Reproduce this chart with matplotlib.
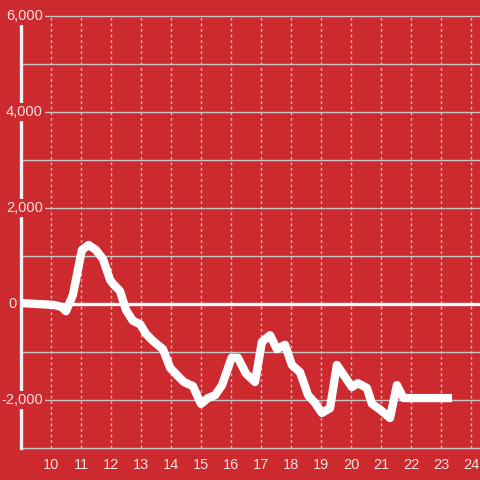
import numpy as np
import matplotlib
matplotlib.use('Agg')
import matplotlib.pyplot as plt

# hours of the day and the running value
hours = [9.0, 10.1, 10.35, 10.5, 10.73, 11.03, 11.25, 11.5, 11.73, 11.97,
         12.07, 12.3, 12.5, 12.73, 12.97, 13.17, 13.4, 13.73, 13.97, 14.2,
         14.43, 14.73, 15.0, 15.23, 15.47, 15.7, 16.02, 16.23, 16.5, 16.8,
         17.03, 17.3, 17.53, 17.8, 18.03, 18.3, 18.57, 18.8, 19.03, 19.3,
         19.53, 20.03, 20.23, 20.53, 20.7, 20.97, 21.3, 21.53, 21.75, 23.37]
values = [20, -20, -60, -150, 190, 1125, 1230, 1125, 940, 500,
          420, 270, -125, -350, -420, -625, -770, -940, -1330, -1480,
          -1625, -1710, -2080, -1960, -1900, -1690, -1120, -1120, -1450, -1625,
          -790, -650, -940, -850, -1270, -1420, -1900, -2060, -2270, -2170,
          -1270, -1730, -1650, -1750, -2080, -2200, -2375, -1690, -1960, -1960]

xticks = list(range(10, 25))
ygrid = list(range(-3000, 6001, 1000))
ylabels = [6000, 4000, 2000, 0, -2000]

bg = '#cc2a2f'
fg = '#f4e2e2'
grid_col = '#c9c4c4'

fig = plt.figure(figsize=(4.8, 4.8), dpi=100, facecolor=bg)
ax = fig.add_axes([21/480, 32/480, 459/480, 432/480])
ax.set_facecolor(bg)
ax.set_xlim(9, 9 + 459/30)
ax.set_ylim(-3000, 6000)

# grid
for y in ygrid:
    ax.axhline(y, color=grid_col, lw=1.0, zorder=1, clip_on=False)
for x in xticks:
    ax.axvline(x, color=grid_col, lw=1.0, ls=(0, (2, 2)), zorder=1)
ax.axhline(0, color='white', lw=2.4, zorder=2)

ax.plot(hours, values, color='white', lw=6, solid_joinstyle='round',
        solid_capstyle='butt', zorder=4)

for s in ['top', 'right', 'bottom']:
    ax.spines[s].set_visible(False)
ax.spines['left'].set_color('#f2f2f2')
ax.spines['left'].set_linewidth(2.4)

ax.set_xticks(xticks)
ax.set_xticklabels([str(x) for x in xticks])
ax.set_yticks([])
ax.tick_params(axis='x', length=0, pad=7, labelsize=10.5, colors=fg)

# y labels sit on top of the axis line with a red box behind them
ytr = ax.get_yaxis_transform()
for v in ylabels:
    xpos = -0.0087 if v == 0 else 0.0479
    ax.text(xpos, v, f'{v:,}', transform=ytr, ha='right', va='center',
            fontsize=10.5, color=fg, zorder=5, clip_on=False,
            bbox=dict(boxstyle='square,pad=0.12', fc=bg, ec='none'))

plt.rcParams['font.family'] = ['Liberation Sans', 'DejaVu Sans']
for t in ax.get_xticklabels() + ax.texts:
    t.set_fontfamily(['Liberation Sans', 'DejaVu Sans'])

fig.savefig('out.png', dpi=100, facecolor=bg)
